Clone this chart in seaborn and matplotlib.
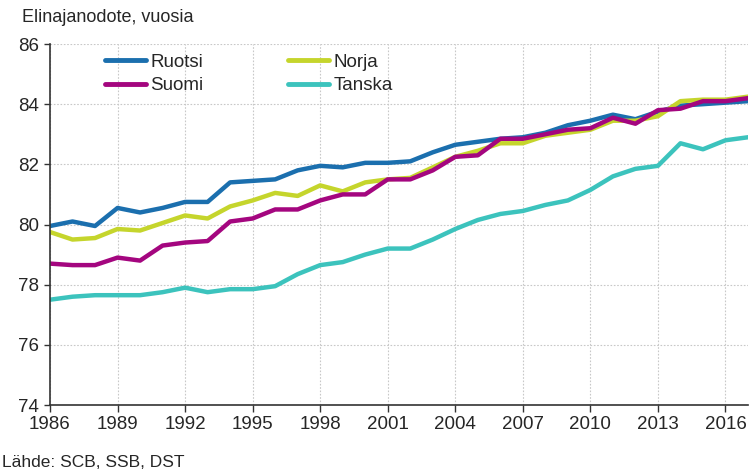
import numpy as np
import pandas as pd
import seaborn as sns
import matplotlib.pyplot as plt

# Data
years = list(range(1986, 2018))
ruotsi = [79.95, 80.1, 79.95, 80.55, 80.4, 80.55, 80.75, 80.75, 81.4, 81.45, 81.5, 81.8,
          81.95, 81.9, 82.05, 82.05, 82.1, 82.4, 82.65, 82.75, 82.85, 82.9, 83.05, 83.3,
          83.45, 83.65, 83.5, 83.75, 83.95, 84.0, 84.05, 84.1]
norja = [79.75, 79.5, 79.55, 79.85, 79.8, 80.05, 80.3, 80.2, 80.6, 80.8, 81.05, 80.95,
         81.3, 81.1, 81.4, 81.5, 81.55, 81.9, 82.25, 82.45, 82.7, 82.7, 82.95, 83.05,
         83.15, 83.45, 83.45, 83.6, 84.1, 84.15, 84.15, 84.25]
suomi = [78.7, 78.65, 78.65, 78.9, 78.8, 79.3, 79.4, 79.45, 80.1, 80.2, 80.5, 80.5,
         80.8, 81.0, 81.0, 81.5, 81.5, 81.8, 82.25, 82.3, 82.85, 82.85, 83.0, 83.15,
         83.2, 83.55, 83.35, 83.8, 83.85, 84.1, 84.1, 84.2]
tanska = [77.5, 77.6, 77.65, 77.65, 77.65, 77.75, 77.9, 77.75, 77.85, 77.85, 77.95, 78.35,
          78.65, 78.75, 79.0, 79.2, 79.2, 79.5, 79.85, 80.15, 80.35, 80.45, 80.65, 80.8,
          81.15, 81.6, 81.85, 81.95, 82.7, 82.5, 82.8, 82.9]
xticks = list(range(1986, 2017, 3))
yticks = [74, 76, 78, 80, 82, 84, 86]

df = pd.DataFrame({'Vuosi': years, 'Ruotsi': ruotsi, 'Norja': norja,
                   'Suomi': suomi, 'Tanska': tanska})
long = df.melt(id_vars='Vuosi', var_name='Maa', value_name='Elinajanodote')

colors = {'Ruotsi': '#1b6fae', 'Norja': '#c5d52c', 'Suomi': '#a4067f', 'Tanska': '#3cc3bd'}

sns.set_style('white')
plt.rcParams['font.family'] = ['Liberation Sans', 'DejaVu Sans']

fig = plt.figure(figsize=(7.49, 4.73), dpi=100)
ax = fig.add_axes([50 / 749, 1 - 405 / 473, 698 / 749, 361 / 473])

sns.lineplot(data=long, x='Vuosi', y='Elinajanodote', hue='Maa',
             hue_order=['Ruotsi', 'Norja', 'Suomi', 'Tanska'],
             palette=colors, linewidth=3.2, ax=ax)

ax.set_xlim(1986, 2017)
ax.set_ylim(74, 86)
ax.set_xticks(xticks)
ax.set_yticks(yticks)
ax.set_xlabel('')
ax.set_ylabel('')
ax.grid(True, color='#c8c8c8', linestyle=(0, (1.5, 1.5)), linewidth=0.8)
ax.set_axisbelow(True)
for s in ['top', 'right']:
    ax.spines[s].set_visible(False)
ax.spines['left'].set_color('#333333')
ax.spines['bottom'].set_color('#333333')
ax.spines['left'].set_linewidth(1.2)
ax.spines['bottom'].set_linewidth(1.2)
ax.tick_params(axis='x', length=5, width=1, color='#333333', labelsize=13.5, pad=3, bottom=True)
ax.tick_params(axis='y', length=4, width=1, color='#333333', labelsize=13.5, pad=4, left=True)

# legend rows: Ruotsi/Norja, Suomi/Tanska
handles, labels = ax.get_legend_handles_labels()
order = [labels.index(n) for n in ['Ruotsi', 'Suomi', 'Norja', 'Tanska']]
leg = ax.legend([handles[i] for i in order], [labels[i] for i in order],
                ncol=2, loc='upper left', bbox_to_anchor=(0.062, 1.005), frameon=False,
                fontsize=13.5, handlelength=2.2, handletextpad=0.25, columnspacing=4.5,
                labelspacing=0.35, borderaxespad=0.2)
for h in leg.get_lines():
    h.set_linewidth(3.5)

fig.text(22 / 749, 1 - 18 / 473, 'Elinajanodote, vuosia', fontsize=13, va='center', ha='left')
fig.text(2 / 749, 1 - 462 / 473, 'Lähde: SCB, SSB, DST', fontsize=12.5, va='center', ha='left')

fig.savefig('out.png', dpi=100)
